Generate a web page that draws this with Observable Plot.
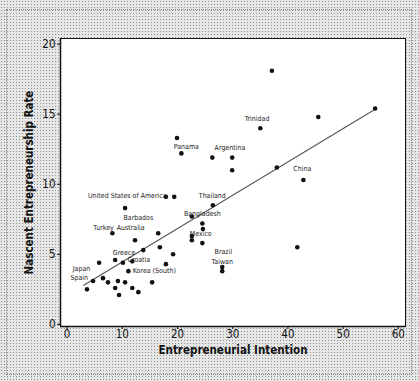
<!DOCTYPE html>
<html>
<head>
<meta charset="utf-8">
<script src="https://cdn.jsdelivr.net/npm/d3@7"></script>
<script src="https://cdn.jsdelivr.net/npm/@observablehq/plot@0.6"></script>
<style>
  html, body { margin: 0; padding: 0; }
  body {
    width: 419px; height: 381px; overflow: hidden; position: relative;
    background-color: #e6e6e6;
    background-image: radial-gradient(circle, #8e8e8e 0.7px, transparent 1px);
    background-size: 3px 3px;
  }
  #edge {
    position: absolute; left: 6px; top: 9px; width: 406px; height: 366px;
    border: 1px dotted #888; box-sizing: border-box; pointer-events: none;
  }
  #chart { position: absolute; left: 0; top: 0; }
  #chart svg { background: transparent !important; }
</style>
</head>
<body>
<div id="edge"></div>
<div id="chart"></div>
<script>
// Entrepreneurial intention (x) and nascent entrepreneurship rate (y) per country
const intention = [37.1, 45.5, 55.8, 35.0, 19.9, 20.7, 26.3, 29.9, 29.9, 38.0,
  42.8, 17.9, 19.4, 26.4, 10.5, 22.6, 24.5, 24.6, 22.6, 22.6,
  24.5, 8.2, 12.3, 16.5, 16.8, 13.8, 19.2, 17.9, 28.1, 28.1,
  41.7, 8.7, 10.1, 11.8, 11.1, 15.4, 5.8, 4.7, 3.6, 6.5,
  7.4, 8.7, 9.4, 9.2, 10.5, 11.8, 12.9];
const nascent = [18.1, 14.8, 15.4, 14.0, 13.3, 12.2, 11.9, 11.9, 11.0, 11.2,
  10.3, 9.1, 9.1, 8.5, 8.3, 7.7, 7.2, 6.8, 6.3, 6.0,
  5.8, 6.5, 6.0, 6.5, 5.5, 5.3, 5.0, 4.3, 4.1, 3.8,
  5.5, 4.6, 4.4, 4.5, 3.8, 3.0, 4.4, 3.1, 2.5, 3.3,
  3.0, 2.6, 2.1, 3.1, 3.0, 2.6, 2.3];

// Country labels and where they sit (data units)
const labelNames = ["Trinidad", "Panama", "Argentina", "China", "United States of America",
  "Barbados", "Turkey", "Australia", "Thailand", "Bangladesh", "Mexico", "Brazil",
  "Taiwan", "Greece", "Croatia", "Korea (South)", "Japan", "Spain"];
const labelX = [34.4, 21.6, 29.5, 42.6, 10.9, 12.9, 6.6, 11.5, 26.3, 24.5, 24.2, 28.3,
  28.1, 10.3, 13.0, 15.8, 2.6, 2.2];
const labelY = [14.7, 12.7, 12.6, 11.1, 9.2, 7.6, 6.9, 6.9, 9.2, 7.9, 6.5, 5.15,
  4.45, 5.1, 4.6, 3.8, 4.0, 3.3];

// Fitted line end points
const fitX = [3.0, 55.8];
const fitY = [2.8, 15.35];

const xTicks = [0, 10, 20, 30, 40, 50, 60];
const yTicks = [0, 5, 10, 15, 20];
const xTitle = "Entrepreneurial Intention";
const yTitle = "Nascent Entrepreneurship Rate";

const points = intention.map((x, i) => ({x, y: nascent[i]}));
const labels = labelNames.map((name, i) => ({name, x: labelX[i], y: labelY[i]}));
const fit = fitX.map((x, i) => ({x, y: fitY[i]}));

const font = "'Liberation Sans Narrow', 'DejaVu Sans Condensed', 'Liberation Sans', sans-serif";

const chart = Plot.plot({
  width: 419,
  height: 381,
  marginLeft: 60,
  marginRight: 14,
  marginTop: 38,
  marginBottom: 55,
  style: {fontFamily: font, background: "transparent", color: "#111"},
  x: {domain: [-1.2, 61.3]},
  y: {domain: [-0.15, 20.4]},
  marks: [
    Plot.frame({fill: "white", stroke: "#111", strokeWidth: 1}),
    Plot.axisX({ticks: xTicks, tickSize: 3, tickPadding: 0, fontSize: 11.5, label: null}),
    Plot.axisY({ticks: yTicks, tickSize: 3, tickPadding: 2, fontSize: 11.5, label: null}),
    Plot.text([xTitle], {frameAnchor: "bottom", dy: 24, lineAnchor: "middle", textAnchor: "middle",
      fontSize: 11.5, fontWeight: "bold", fill: "#111"}),
    Plot.text([yTitle], {frameAnchor: "left", rotate: -90, dx: -31, lineAnchor: "middle", textAnchor: "middle",
      fontSize: 11.5, fontWeight: "bold", fill: "#111"}),
    Plot.ruleX([-1.2], {stroke: "#111", strokeWidth: 1.5}),
    Plot.ruleY([-0.15], {stroke: "#111", strokeWidth: 1.5}),
    Plot.line(fit, {x: "x", y: "y", stroke: "#555", strokeWidth: 1.1}),
    Plot.dot(points, {x: "x", y: "y", r: 2.3, fill: "#111", stroke: "none"}),
    Plot.text(labels, {x: "x", y: "y", text: "name", fontSize: 7, fill: "#222"})
  ]
});
document.getElementById("chart").appendChild(chart);
</script>
</body>
</html>
